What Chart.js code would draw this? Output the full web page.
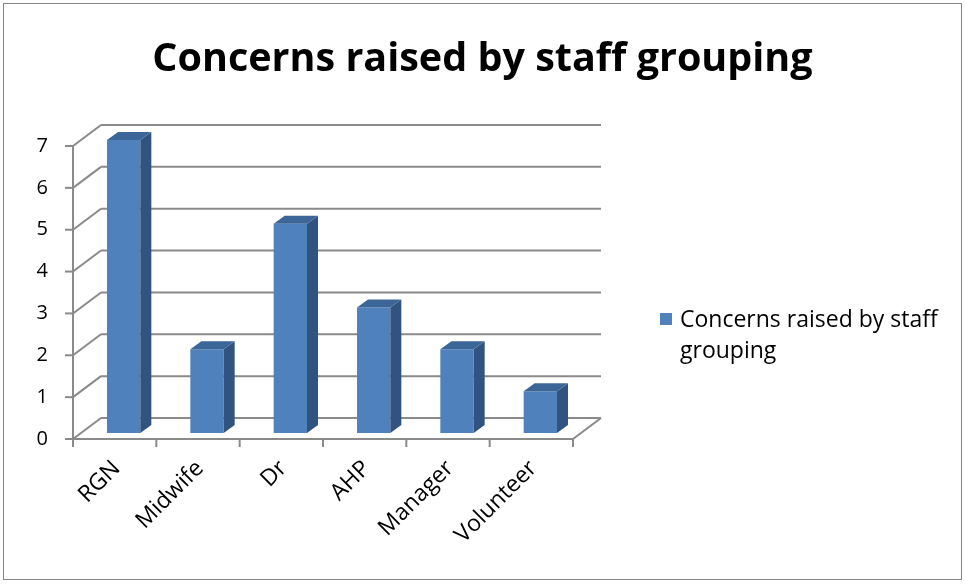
<!DOCTYPE html>
<html lang="en">
<head>
<meta charset="UTF-8">
<title>Concerns raised by staff grouping</title>
<style>
  body {margin: 0; background: #fff;}
</style>
<script src="https://cdn.jsdelivr.net/npm/chart.js@4.4.0/dist/chart.umd.min.js"></script>
</head>
<body>
<canvas id="staffChart" width="965" height="584"></canvas>
<script>
// data
const categories = ['RGN', 'Midwife', 'Dr', 'AHP', 'Manager', 'Volunteer'];
const concerns = [7, 2, 5, 3, 2, 1];
const seriesName = 'Concerns raised by staff grouping';
const legendLines = ['Concerns raised by staff', 'grouping'];

const FONT = '"Open Sans", "Noto Sans", sans-serif';
const GRID = '#8a8a8a';
const FRONT = '#4f81bd', TOP = '#3d6698', SIDE = '#30537f';
const WALL = {dx: 28, dy: -21};      // back wall offset
const BAR_OFF = {dx: 9, dy: -6};     // bars stand a bit behind the front axis
const BAR_DEPTH = {dx: 11, dy: -8};  // thickness of each bar

function line(ctx, x1, y1, x2, y2) {
  ctx.beginPath(); ctx.moveTo(x1, y1); ctx.lineTo(x2, y2); ctx.stroke();
}

const threeD = {
  id: 'threeD',
  beforeDraw(chart) {
    const ctx = chart.ctx;
    ctx.save();
    ctx.strokeStyle = '#868686'; ctx.lineWidth = 1;
    ctx.strokeRect(3.5, 3.5, 958, 576);
    ctx.restore();
  },
  beforeDatasetsDraw(chart) {
    const {ctx, chartArea: a, scales: {x, y}} = chart;
    ctx.save();
    ctx.strokeStyle = GRID; ctx.lineWidth = 2;
    y.ticks.forEach(t => {
      const py = y.getPixelForValue(t.value);
      line(ctx, a.left, py, a.left + WALL.dx, py + WALL.dy);
      line(ctx, a.left + WALL.dx, py + WALL.dy, a.right + WALL.dx, py + WALL.dy);
      line(ctx, a.left - 8, py, a.left, py);
    });
    line(ctx, a.left, a.top, a.left, a.bottom);
    line(ctx, a.left, a.bottom, a.right, a.bottom);
    line(ctx, a.right, a.bottom, a.right + WALL.dx, a.bottom + WALL.dy);
    const step = x.getPixelForValue(1) - x.getPixelForValue(0);
    for (let i = 0; i <= categories.length; i++) {
      const px = x.getPixelForValue(0) - step / 2 + i * step;
      line(ctx, px, a.bottom, px, a.bottom + 8);
    }
    ctx.restore();
    ctx.save();
    ctx.translate(BAR_OFF.dx, BAR_OFF.dy);
  },
  afterDatasetsDraw(chart) {
    const ctx = chart.ctx;
    chart.getDatasetMeta(0).data.forEach(bar => {
      const l = bar.x - bar.width / 2, r = bar.x + bar.width / 2;
      const t = bar.y, b = bar.base;
      const dx = BAR_DEPTH.dx, dy = BAR_DEPTH.dy;
      ctx.fillStyle = SIDE;
      ctx.beginPath();
      ctx.moveTo(r, t); ctx.lineTo(r + dx, t + dy); ctx.lineTo(r + dx, b + dy); ctx.lineTo(r, b);
      ctx.closePath(); ctx.fill();
      ctx.fillStyle = TOP;
      ctx.beginPath();
      ctx.moveTo(l, t); ctx.lineTo(l + dx, t + dy); ctx.lineTo(r + dx, t + dy); ctx.lineTo(r, t);
      ctx.closePath(); ctx.fill();
    });
    ctx.restore();
  },
  afterDraw(chart) {
    const ctx = chart.ctx;
    ctx.save();
    ctx.fillStyle = FRONT;
    ctx.fillRect(660, 313, 12, 12);
    ctx.fillStyle = '#000';
    ctx.font = '23px ' + FONT;
    ctx.textBaseline = 'alphabetic';
    ctx.fillText(legendLines[0], 680, 327);
    ctx.fillText(legendLines[1], 680, 358);
    ctx.restore();
  }
};

new Chart(document.getElementById('staffChart'), {
  type: 'bar',
  data: {
    labels: categories,
    datasets: [{
      label: seriesName,
      data: concerns,
      backgroundColor: FRONT,
      borderWidth: 0,
      categoryPercentage: 1,
      barPercentage: 0.4
    }]
  },
  options: {
    responsive: false,
    animation: false,
    devicePixelRatio: 1,
    layout: {padding: 0},
    plugins: {
      legend: {display: false},
      tooltip: {enabled: false},
      title: {
        display: true,
        text: seriesName,
        color: '#000',
        font: {family: FONT, size: 39.5, weight: 'bold'},
        padding: {top: 36, bottom: 62.6}
      }
    },
    scales: {
      x: {
        grid: {display: false},
        border: {display: false},
        ticks: {color: '#000', font: {family: FONT, size: 23}, maxRotation: 45, minRotation: 45, padding: 8, labelOffset: 2},
        afterFit(scale) { scale.height = 145; }
      },
      y: {
        min: 0, max: 7,
        grid: {display: false},
        border: {display: false},
        ticks: {stepSize: 1, color: '#000', font: {family: FONT, size: 20}, padding: 17},
        afterFit(scale) { scale.width = 73; }
      },
      // empty right-hand strip that holds the back wall and the legend
      side: {
        position: 'right',
        grid: {display: false},
        border: {display: false},
        ticks: {display: false},
        afterFit(scale) { scale.width = 392; }
      }
    }
  },
  plugins: [threeD]
});
</script>
</body>
</html>
